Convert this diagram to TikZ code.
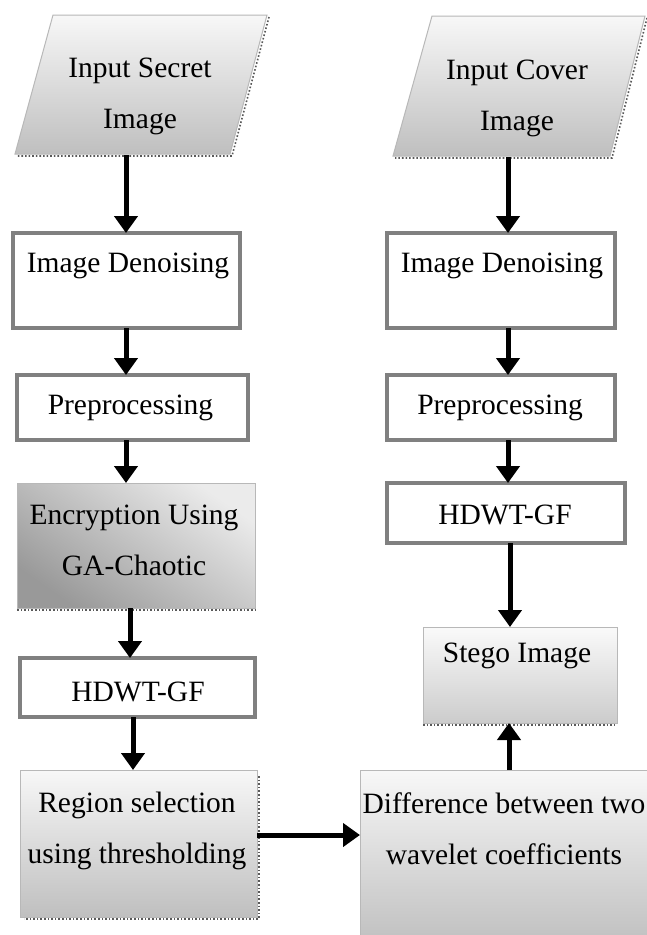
\documentclass[tikz,border=0pt]{standalone}
\usepackage{fontspec}
\setmainfont{Liberation Serif}
\usetikzlibrary{arrows.meta}
\begin{document}
\begin{tikzpicture}[x=1pt,y=-1pt,
  wbox/.style={draw=black!50, line width=3.5pt, fill=white, inner sep=0pt, outer sep=0pt, anchor=north west},
  sbox/.style={draw=black!28, line width=1pt, top color=black!3, bottom color=black!25, inner sep=0pt, outer sep=0pt, anchor=north west},
  shadowline/.style={black!65, line width=1.6pt, dotted},
  txt/.style={font=\fontsize{29.5}{51}\selectfont, align=center, inner sep=0pt},
  arr/.style={line width=5pt, -{Triangle[width=23pt,length=17pt]}}]
\clip (0,0) rectangle (647,935);
\fill[white] (0,0) rectangle (647,935);

% ---- input parallelograms
\shade[top color=black!3, bottom color=black!25, draw=black!28, line width=1pt]
  (53,15) -- (267,15) -- (230,154) -- (15,154) -- cycle;
\draw[shadowline] (269,17) -- (232,156) -- (17,156);
\coordinate (secB) at (126,155);
\node[txt] (secT) at (140,96) {Input Secret\\Image};

\shade[top color=black!3, bottom color=black!25, draw=black!28, line width=1pt]
  (432,16) -- (645,16) -- (610,156) -- (393,156) -- cycle;
\draw[shadowline] (647,18) -- (612,158) -- (395,158);
\coordinate (covB) at (508,157);
\node[txt] (covT) at (517,98) {Input Cover\\Image};

% ---- left column
\node[wbox, minimum width=227pt, minimum height=95pt] (denL) at (13,233) {};
\node[txt] (denLt) at (128,266) {Image Denoising};
\node[wbox, minimum width=231pt, minimum height=65pt] (preL) at (17,375) {};
\node[txt] (preLt) at (130.5,408) {Preprocessing};
\node[draw=black!28, line width=1pt, top color=black!8, bottom color=black!40, shading angle=-35,
      inner sep=0pt, outer sep=0pt, anchor=north west, minimum width=238pt, minimum height=125pt] (encL) at (17,483) {};
\draw[shadowline] ([yshift=-2pt]encL.south west) -- ([yshift=-2pt]encL.south east);
\node[txt] (encLt) at (134,540) {Encryption Using\\GA-Chaotic};
\node[wbox, minimum width=235pt, minimum height=59pt] (hdwL) at (20,658) {};
\node[txt] (hdwLt) at (138,692) {HDWT-GF};
\node[sbox, minimum width=237pt, minimum height=147pt] (regL) at (20,770) {};
\draw[shadowline] ([xshift=2pt,yshift=-6pt]regL.north east) -- ([xshift=2pt,yshift=-2pt]regL.south east) -- ([xshift=4pt,yshift=-2pt]regL.south west);
\node[txt] (regLt) at (137,831) {Region selection\\using thresholding};

% ---- right column
\node[wbox, minimum width=228pt, minimum height=95pt] (denR) at (387,233) {};
\node[txt] (denRt) at (502,266) {Image Denoising};
\node[wbox, minimum width=228pt, minimum height=65pt] (preR) at (387,375) {};
\node[txt] (preRt) at (500,408) {Preprocessing};
\node[wbox, minimum width=238pt, minimum height=60pt] (hdwR) at (387,483) {};
\node[txt] (hdwRt) at (505,515) {HDWT-GF};
\node[draw=black!28, line width=1pt, top color=black!2, bottom color=black!20,
      inner sep=0pt, outer sep=0pt, anchor=north west, minimum width=194pt, minimum height=96pt] (steg) at (423,627) {};
\draw[shadowline] ([yshift=-2pt]steg.south west) -- ([yshift=-2pt]steg.south east);
\node[txt] (stegt) at (517,656) {Stego Image};
\node[draw=black!28, line width=1pt, top color=black!3, bottom color=black!28,
      inner sep=0pt, outer sep=0pt, anchor=north west, minimum width=340pt, minimum height=200pt] (dif) at (360,770) {};
\node[txt] (dift) at (504,829) {Difference between two\\wavelet coefficients};

% ---- connectors
\draw[arr] (secB) -- (secB |- denL.north);
\draw[arr] (secB |- denL.south) -- (secB |- preL.north);
\draw[arr] (secB |- preL.south) -- (secB |- encL.north);
\draw[arr] ([xshift=-6pt]encL.south) -- ([xshift=-6pt]encL.south |- hdwL.north);
\draw[arr] ([xshift=-4.5pt]hdwL.south) -- ([xshift=-4.5pt]hdwL.south |- regL.north);
\draw[arr] ([yshift=8.5pt]regL.east) -- ([yshift=8.5pt]regL.east -| dif.west);

\draw[arr] (covB) -- (covB |- denR.north);
\draw[arr] (covB |- denR.south) -- (covB |- preR.north);
\draw[arr] (covB |- preR.south) -- (covB |- hdwR.north);
\draw[arr] ([xshift=2pt]covB |- hdwR.south) -- ([xshift=2pt]covB |- steg.north);
\draw[arr] ([xshift=1pt]covB |- dif.north) -- ([xshift=1pt]covB |- steg.south);
\end{tikzpicture}
\end{document}
